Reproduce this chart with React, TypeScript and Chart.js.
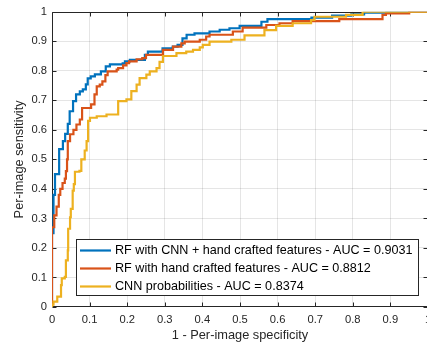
import React, { useEffect, useRef } from "react";
import { Chart, registerables } from "chart.js";

Chart.register(...registerables);

// ---- data (ROC curves: false positive rate / true positive rate at each step corner) ----
const seriesLabels = [
  "RF with CNN + hand crafted features - AUC = 0.9031",
  "RF with hand crafted features - AUC = 0.8812",
  "CNN probabilities - AUC = 0.8374",
];
const seriesColors = ["#0072BD", "#D95319", "#EDB120"];

const rfCnnFpr = [0, 0, 0.004, 0.008, 0.019, 0.029, 0.035, 0.042, 0.047, 0.056, 0.064, 0.074, 0.082, 0.09, 0.095, 0.103, 0.114, 0.13, 0.143, 0.154, 0.188, 0.194, 0.207, 0.247, 0.255, 0.294, 0.321, 0.334, 0.347, 0.358, 0.379, 0.419, 0.446, 0.472, 0.499, 0.557, 0.573, 0.69, 0.745, 0.796, 0.83, 0.889, 1];
const rfCnnTpr = [0, 0.25, 0.38, 0.45, 0.535, 0.562, 0.586, 0.62, 0.663, 0.697, 0.72, 0.73, 0.737, 0.754, 0.774, 0.781, 0.788, 0.798, 0.815, 0.822, 0.825, 0.832, 0.837, 0.854, 0.865, 0.876, 0.882, 0.888, 0.91, 0.922, 0.927, 0.933, 0.939, 0.944, 0.952, 0.966, 0.975, 0.98, 0.987, 0.991, 0.997, 1, 1];

const rfHandFpr = [0, 0, 0.006, 0.012, 0.018, 0.022, 0.028, 0.034, 0.037, 0.04, 0.042, 0.048, 0.057, 0.065, 0.074, 0.08, 0.104, 0.113, 0.119, 0.127, 0.134, 0.142, 0.148, 0.172, 0.176, 0.189, 0.198, 0.205, 0.225, 0.24, 0.25, 0.295, 0.322, 0.344, 0.353, 0.393, 0.41, 0.419, 0.481, 0.507, 0.57, 0.605, 0.64, 0.764, 0.879, 0.888, 0.95, 1];
const rfHandTpr = [0, 0.27, 0.31, 0.34, 0.38, 0.4, 0.42, 0.435, 0.46, 0.5, 0.562, 0.585, 0.6, 0.618, 0.635, 0.674, 0.686, 0.72, 0.747, 0.753, 0.764, 0.785, 0.798, 0.804, 0.809, 0.818, 0.826, 0.832, 0.839, 0.843, 0.854, 0.871, 0.882, 0.893, 0.899, 0.905, 0.916, 0.922, 0.933, 0.946, 0.955, 0.961, 0.968, 0.975, 0.989, 0.994, 1, 1];

const cnnFpr = [0, 0, 0.004, 0.014, 0.024, 0.026, 0.034, 0.037, 0.042, 0.043, 0.048, 0.05, 0.055, 0.058, 0.061, 0.073, 0.078, 0.087, 0.092, 0.096, 0.101, 0.119, 0.145, 0.176, 0.198, 0.211, 0.225, 0.233, 0.251, 0.26, 0.278, 0.286, 0.295, 0.331, 0.357, 0.375, 0.393, 0.401, 0.419, 0.477, 0.512, 0.565, 0.596, 0.64, 0.689, 0.698, 0.782, 0.826, 1];
const cnnTpr = [0, 0.008, 0.018, 0.035, 0.074, 0.097, 0.102, 0.158, 0.192, 0.265, 0.304, 0.332, 0.394, 0.416, 0.458, 0.461, 0.5, 0.53, 0.562, 0.63, 0.641, 0.646, 0.652, 0.697, 0.703, 0.731, 0.753, 0.775, 0.787, 0.798, 0.809, 0.83, 0.85, 0.86, 0.865, 0.871, 0.879, 0.888, 0.899, 0.905, 0.92, 0.938, 0.952, 0.961, 0.972, 0.983, 0.989, 1, 1];

const xTickValues = [0, 0.1, 0.2, 0.3, 0.4, 0.5, 0.6, 0.7, 0.8, 0.9, 1];
const yTickValues = [0, 0.1, 0.2, 0.3, 0.4, 0.5, 0.6, 0.7, 0.8, 0.9, 1];
const xTitle = "1 - Per-image specificity";
const yTitle = "Per-image sensitivity";

const FONT = "'Liberation Sans', Arial, Helvetica, sans-serif";
const AXIS = "#262626";
const GRID = "rgba(38,38,38,0.12)";

const fmt = (v: number) => String(Math.round(v * 10) / 10);
const toPoints = (xs: number[], ys: number[]) => xs.map((x, i) => ({ x, y: ys[i] }));

const matlabPlugin = {
  id: "matlabAxes",
  beforeDatasetsDraw(chart: any) {
    const { ctx, chartArea } = chart;
    const { left, right, top, bottom } = chartArea;
    const xs = chart.scales.x;
    const ys = chart.scales.y;
    ctx.save();
    ctx.strokeStyle = AXIS;
    ctx.lineWidth = 1;
    ctx.beginPath();
    const L = Math.round(left) + 0.5;
    const R = Math.round(right) - 0.5;
    const T = Math.round(top) + 0.5;
    const B = Math.round(bottom) - 0.5;
    ctx.rect(L, T, R - L, B - T);
    const tl = 4;
    xTickValues.forEach((v) => {
      const px = Math.round(xs.getPixelForValue(v)) + 0.5;
      ctx.moveTo(px, B);
      ctx.lineTo(px, B - tl);
      ctx.moveTo(px, T);
      ctx.lineTo(px, T + tl);
    });
    yTickValues.forEach((v) => {
      const py = Math.round(ys.getPixelForValue(v)) + 0.5;
      ctx.moveTo(L, py);
      ctx.lineTo(L + tl, py);
      ctx.moveTo(R, py);
      ctx.lineTo(R - tl, py);
    });
    ctx.stroke();
    ctx.restore();
  },
  afterDraw(chart: any) {
    const { ctx } = chart;
    const bx = 76.5, by = 239.5, bw = 342, bh = 56;
    ctx.save();
    ctx.fillStyle = "#ffffff";
    ctx.fillRect(bx, by, bw, bh);
    ctx.strokeStyle = AXIS;
    ctx.lineWidth = 1;
    ctx.strokeRect(bx, by, bw, bh);
    ctx.font = `12.6px ${FONT}`;
    ctx.textBaseline = "middle";
    ctx.textAlign = "left";
    seriesLabels.forEach((label, i) => {
      const ry = by + 11 + i * 18;
      ctx.strokeStyle = seriesColors[i];
      ctx.lineWidth = 2.2;
      ctx.beginPath();
      ctx.moveTo(80, ry);
      ctx.lineTo(111, ry);
      ctx.stroke();
      ctx.fillStyle = "#000000";
      ctx.fillText(label, 115, ry + 0.5);
    });
    ctx.restore();
  },
};

export default function App() {
  const ref = useRef<HTMLCanvasElement | null>(null);

  useEffect(() => {
    if (!ref.current) return;
    const series = [
      toPoints(rfCnnFpr, rfCnnTpr),
      toPoints(rfHandFpr, rfHandTpr),
      toPoints(cnnFpr, cnnTpr),
    ];
    const gridColor = (c: any) =>
      c.tick && (c.tick.value === 0 || c.tick.value === 1) ? "rgba(0,0,0,0)" : GRID;
    const chart = new Chart(ref.current, {
      type: "line",
      data: {
        datasets: series.map((data, i) => ({
          label: seriesLabels[i],
          data,
          borderColor: seriesColors[i],
          backgroundColor: seriesColors[i],
          borderWidth: 2.2,
          pointRadius: 0,
          stepped: "before",
          fill: false,
          order: 3 - i,
        })),
      },
      options: {
        responsive: false,
        animation: false,
        devicePixelRatio: 1,
        layout: { padding: { left: 0, right: 12, top: 10, bottom: 0 } },
        plugins: { legend: { display: false }, tooltip: { enabled: false } },
        scales: {
          x: {
            type: "linear",
            min: 0,
            max: 1,
            afterBuildTicks: (s: any) => {
              s.ticks = xTickValues.map((value) => ({ value }));
            },
            afterFit: (s: any) => {
              s.height = 38;
            },
            ticks: {
              callback: (v: any) => fmt(Number(v)),
              font: { family: FONT, size: 11.2 },
              color: AXIS,
              padding: 6,
              maxRotation: 0,
              autoSkip: false,
            },
            grid: { color: gridColor, drawTicks: false, lineWidth: 1 },
            border: { display: false },
            title: {
              display: true,
              text: xTitle,
              font: { family: FONT, size: 12.8 },
              color: AXIS,
              padding: { top: 0, bottom: 1.5 },
            },
          },
          y: {
            type: "linear",
            min: 0,
            max: 1,
            afterBuildTicks: (s: any) => {
              s.ticks = yTickValues.map((value) => ({ value }));
            },
            afterFit: (s: any) => {
              s.width = 52;
            },
            ticks: {
              callback: (v: any) => fmt(Number(v)),
              font: { family: FONT, size: 11.2 },
              color: AXIS,
              padding: 5,
              autoSkip: false,
            },
            grid: { color: gridColor, drawTicks: false, lineWidth: 1 },
            border: { display: false },
            title: {
              display: true,
              text: yTitle,
              font: { family: FONT, size: 12.8 },
              color: AXIS,
              padding: { top: 12, bottom: 0 },
            },
          },
        },
      },
      plugins: [matlabPlugin],
    } as any);
    return () => chart.destroy();
  }, []);

  return (
    <div
      style={{
        position: "fixed",
        left: 0,
        top: 0,
        width: 427,
        height: 345,
        overflow: "hidden",
        background: "#ffffff",
      }}
    >
      <canvas ref={ref} width={440} height={345} style={{ display: "block", width: 440, height: 345 }} />
    </div>
  );
}
